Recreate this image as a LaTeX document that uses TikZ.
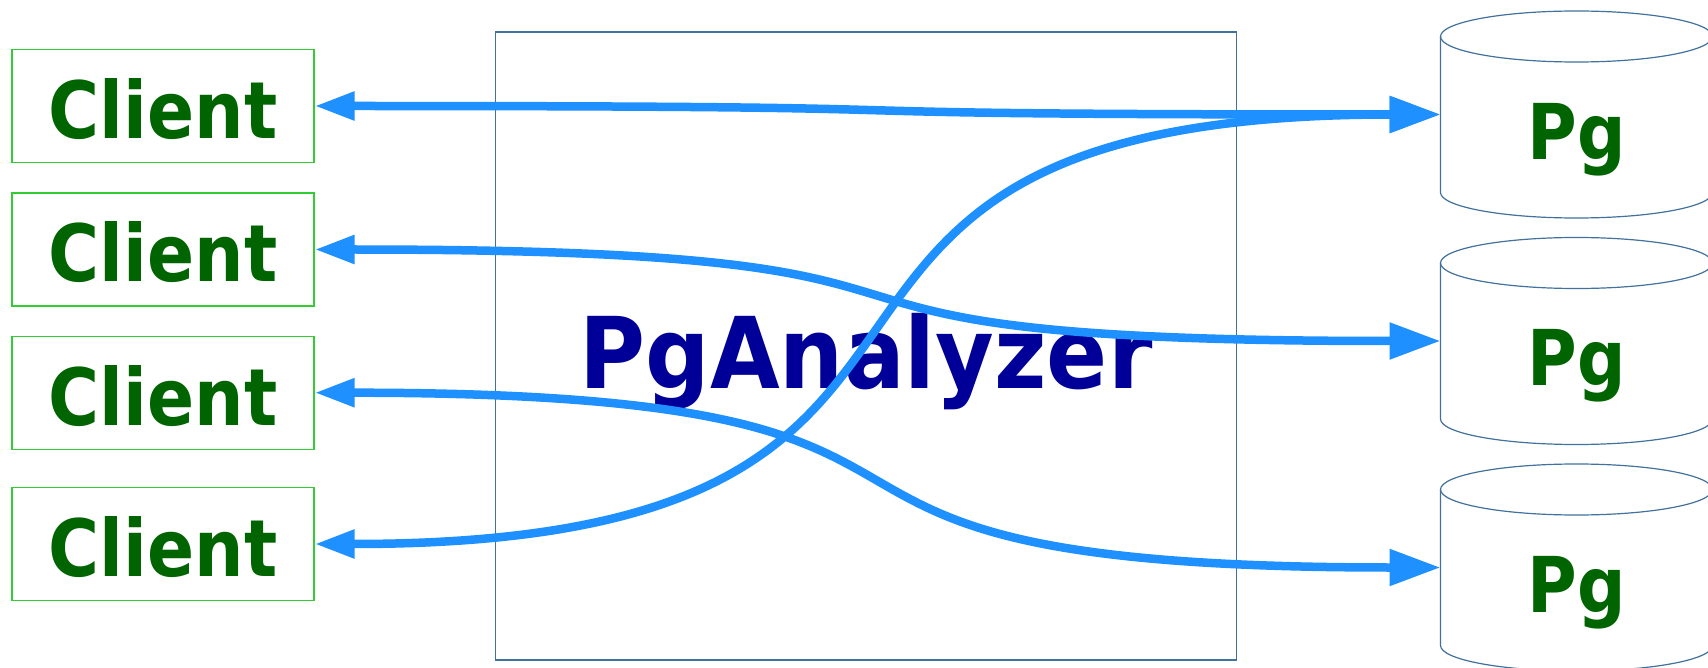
\documentclass[tikz,border=0pt]{standalone}
\usepackage{fontspec}
\newfontfamily\dvs{DejaVu Sans}[FakeStretch=0.88]
\newfontfamily\dvt{DejaVu Sans}[FakeStretch=0.91]
\usetikzlibrary{arrows.meta}
\definecolor{arrowblue}{RGB}{30,144,255}
\definecolor{txtgreen}{RGB}{0,100,0}
\definecolor{boxgreen}{RGB}{50,205,50}
\definecolor{frameblue}{RGB}{65,113,156}
\definecolor{titleblue}{RGB}{0,0,153}
\begin{document}
\begin{tikzpicture}[x=1pt,y=-1pt,
  clientbox/.style={draw=boxgreen,line width=1.3pt,minimum width=302pt,minimum height=113pt,inner sep=0pt,
    text height=65pt,text depth=0pt,font=\dvs\bfseries\fontsize{79}{79}\selectfont,text=txtgreen},
  cylbox/.style={draw=none,minimum width=272pt,minimum height=206pt,inner sep=0pt,outer sep=0pt},
  cylline/.style={draw=frameblue,line width=1.2pt},
  pgtext/.style={anchor=base,inner sep=0pt,font=\dvs\bfseries\fontsize{77}{77}\selectfont,text=txtgreen},
  framebox/.style={draw=frameblue,line width=1.1pt,minimum width=741pt,minimum height=628pt,inner sep=0pt},
  titletext/.style={anchor=base,inner sep=0pt,font=\dvt\bfseries\fontsize{99}{99}\selectfont,text=titleblue},
  conn/.style={draw=arrowblue,line width=8.5pt,
    {Triangle[length=40pt,width=27pt]}-{Triangle[length=51pt,width=35pt]}}
]
\fill[white] (0,0) rectangle (1708,668);
\useasboundingbox (0,0) rectangle (1708,668);

% central box
\node[framebox] (pga) at (866,346) {};
\node[titletext] (title) at (866,388.3) {PgAnalyzer};

% clients
\node[clientbox] (c1) at (163,106) {Client};
\node[clientbox] (c2) at (163,249.5) {Client};
\node[clientbox] (c3) at (163,392.7) {Client};
\node[clientbox] (c4) at (163,544) {Client};

% cylinders
\foreach \i/\cy in {1/114.5, 2/341, 3/567.5} {
  \node[cylbox] (p\i) at (1576.5,\cy) {};
  \draw[cylline] (1440.5,\cy-78) -- (1440.5,\cy+78)
     arc[start angle=180,end angle=360,x radius=136pt,y radius=25.5pt] -- (1712.5,\cy-78);
  \draw[cylline] (1576.5,\cy-78) ellipse[x radius=136pt,y radius=25.5pt];
  \node[pgtext] (pg\i) at (1577,\cy+44.8) {Pg};
}

% connectors
\draw[conn] (c1.east) .. controls +(780,0) and +(-780,0) .. (p1.west);
\draw[conn] (c2.east) .. controls +(780,0) and +(-780,0) .. (p2.west);
\draw[conn] (c3.east) .. controls +(780,0) and +(-780,0) .. (p3.west);
\draw[conn] (c4.east) .. controls +(780,0) and +(-780,0) .. (p1.west);
\end{tikzpicture}
\end{document}
